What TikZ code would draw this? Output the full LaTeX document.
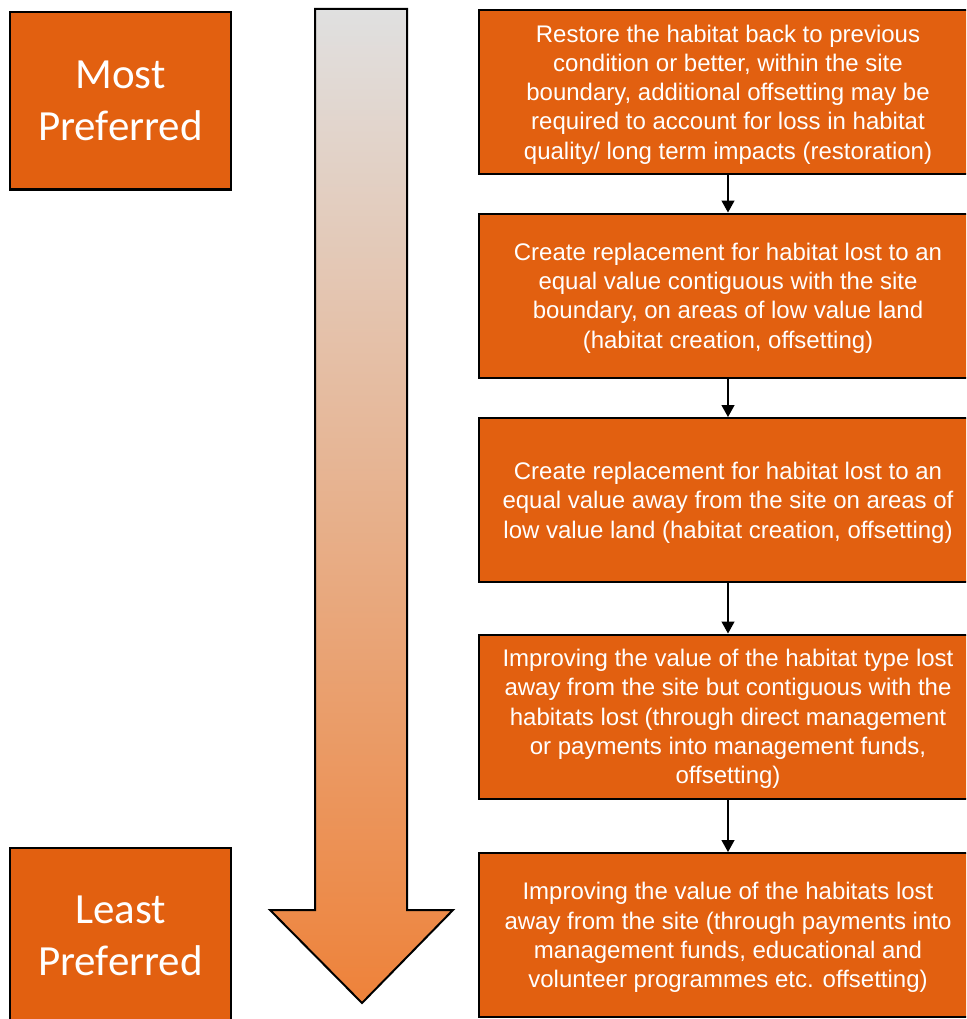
\documentclass[tikz,border=0pt]{standalone}
\usepackage{fontspec}
\setmainfont{Liberation Sans}
\newfontfamily\calfont{Carlito}
\usetikzlibrary{arrows.meta, positioning}
\definecolor{boxorange}{RGB}{226,96,16}
\definecolor{arrowtop}{RGB}{224,224,224}
\definecolor{arrowbottom}{RGB}{238,130,58}

\begin{document}
\begin{tikzpicture}[x=1pt, y=-1pt, >={Triangle[length=12pt, width=13pt]},
    stepbox/.style={draw=black, line width=2pt, fill=boxorange, text=white,
      minimum width=498pt, minimum height=164pt, align=center, text depth=0pt,
      font=\fontsize{24}{29.3}\selectfont},
    endbox/.style={draw=black, line width=2pt, fill=boxorange, text=white,
      minimum width=221pt, minimum height=177pt, align=center, text depth=0pt,
      font=\calfont\fontsize{43}{52}\selectfont}]
    \useasboundingbox (0, 0) rectangle (966, 1019);
    \clip (0, 0) rectangle (966, 1019);

    % preference arrow
    \draw[line width=2pt, top color=arrowtop, bottom color=arrowbottom]
      (315, 9) -- (407, 9) -- (407, 910) -- (453, 910) -- (362, 1003)
      -- (270, 910) -- (315, 910) -- cycle;

    \node[endbox] (most) at (120.5, 101) {Most\\Preferred};
    \node[endbox] (least) at (120.5, 936) {Least\\Preferred};

    \node[stepbox] (restore) at (728, 92) {Restore the habitat back to previous\\condition or better, within the site\\boundary, additional offsetting may be\\required to account for loss in habitat\\quality/ long term impacts (restoration)};
    \node[stepbox] (contig) at (728, 295.5) {Create replacement for habitat lost to an\\equal value contiguous with the site\\boundary, on areas of low value land\\(habitat creation, offsetting)};
    \node[stepbox] (away) at (728, 500) {Create replacement for habitat lost to an\\equal value away from the site on areas of\\low value land (habitat creation, offsetting)};
    \node[stepbox] (improve) at (728, 716.5) {Improving the value of the habitat type lost\\away from the site but contiguous with the\\habitats lost (through direct management\\or payments into management funds,\\offsetting)};
    \node[stepbox] (payments) at (728, 935) {Improving the value of the habitats lost\\away from the site (through payments into\\management funds, educational and\\volunteer programmes etc. offsetting)};

    \draw[->, line width=1.3pt] (restore) -- (contig);
    \draw[->, line width=1.3pt] (contig) -- (away);
    \draw[->, line width=1.3pt] (away) -- (improve);
    \draw[->, line width=1.3pt] (improve) -- (payments);
\end{tikzpicture}
\end{document}
